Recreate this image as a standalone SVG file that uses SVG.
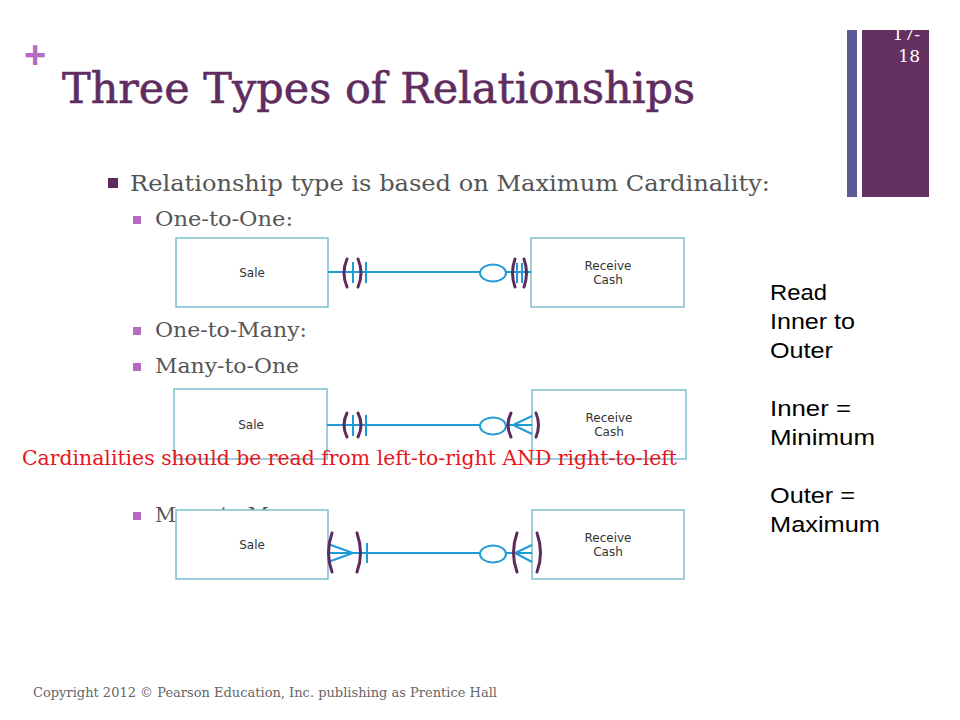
<svg xmlns="http://www.w3.org/2000/svg" width="960" height="720" viewBox="0 0 960 720">
<style>
.slab{font-family:"DejaVu Serif","Liberation Serif",serif}
.box{fill:#fff;stroke:#7cc0d0;stroke-width:1.5}
.lbl{font-family:"DejaVu Sans","Liberation Sans",sans-serif;font-size:12px;fill:#333;text-anchor:middle}
.ln{stroke:#1e9ad6;stroke-width:2;fill:none}
.br{stroke:#5e2b5e;stroke-width:3;fill:none;stroke-linecap:round}
.sub{font-size:20px;fill:#555}
.side{font-family:"Liberation Sans",Arial,sans-serif;font-size:22px;fill:#000}
</style>
<rect width="960" height="720" fill="#fff"/>
<text x="24" y="68" font-family="Liberation Sans,sans-serif" font-weight="bold" font-size="38" fill="#b56cc0">+</text>
<text class="slab" x="62" y="103" font-size="42" fill="#5f2c5f" stroke="#5f2c5f" stroke-width="0.6" textLength="633" lengthAdjust="spacingAndGlyphs">Three Types of Relationships</text>
<rect x="847" y="30" width="10" height="167" fill="#5d5a96"/>
<rect x="862" y="30" width="67" height="167" fill="#633060"/>
<text class="slab" x="920" y="40" font-size="17" fill="#fff" text-anchor="end">17-</text>
<text class="slab" x="920" y="62" font-size="17" fill="#fff" text-anchor="end">18</text>
<rect x="108" y="178" width="10" height="10" fill="#5e2b5e"/>
<text class="slab" x="130" y="191" font-size="23" fill="#555" textLength="640" lengthAdjust="spacingAndGlyphs">Relationship type is based on Maximum Cardinality:</text>
<rect x="133" y="216" width="8" height="8" fill="#b56cc0"/>
<text class="slab sub" x="155" y="226" textLength="138" lengthAdjust="spacingAndGlyphs">One-to-One:</text>
<rect x="133" y="327" width="8" height="8" fill="#b56cc0"/>
<text class="slab sub" x="155" y="337" textLength="152" lengthAdjust="spacingAndGlyphs">One-to-Many:</text>
<rect x="133" y="363" width="8" height="8" fill="#b56cc0"/>
<text class="slab sub" x="155" y="373" textLength="144" lengthAdjust="spacingAndGlyphs">Many-to-One</text>
<rect x="133" y="512" width="8" height="8" fill="#b56cc0"/>
<text class="slab sub" x="155" y="522" textLength="158" lengthAdjust="spacingAndGlyphs">Many-to-Many:</text>

<g id="sale1"><rect class="box" x="176" y="238" width="152" height="69"/><text class="lbl" x="252" y="277">Sale</text></g>
<g id="cash1"><rect class="box" x="531" y="238" width="153" height="69"/><text class="lbl" x="608" y="270">Receive</text><text class="lbl" x="608" y="284">Cash</text></g>
<g id="sale2"><rect class="box" x="174" y="389" width="153" height="70"/><text class="lbl" x="251" y="429">Sale</text></g>
<g id="cash2"><rect class="box" x="532" y="390" width="154" height="69"/><text class="lbl" x="609" y="422">Receive</text><text class="lbl" x="609" y="436">Cash</text></g>
<g id="sale3"><rect class="box" x="176" y="510" width="152" height="69"/><text class="lbl" x="252" y="549">Sale</text></g>
<g id="cash3"><rect class="box" x="532" y="510" width="152" height="69"/><text class="lbl" x="608" y="542">Receive</text><text class="lbl" x="608" y="556">Cash</text></g>

<g id="connectors">
<!-- row 1 -->
<line class="ln" x1="328" y1="272" x2="480" y2="272"/>
<line class="ln" x1="506" y1="272" x2="531" y2="272"/>
<line class="ln" x1="353" y1="262" x2="353" y2="283"/>
<line class="ln" x1="366" y1="262" x2="366" y2="283"/>
<ellipse class="ln" cx="493" cy="273" rx="13" ry="8.5"/>
<line class="ln" x1="517" y1="263" x2="517" y2="283"/>
<line class="ln" x1="522" y1="263" x2="522" y2="283"/>
<path class="br" d="M347 259 Q341 273 347 287"/>
<path class="br" d="M358 259 Q364 273 358 287"/>
<path class="br" d="M515 259 Q510 273 515 287"/>
<path class="br" d="M524 259 Q529 273 524 287"/>
<!-- row 2 -->
<line class="ln" x1="327" y1="425" x2="480" y2="425"/>
<line class="ln" x1="506" y1="425" x2="532" y2="425"/>
<line class="ln" x1="353" y1="415" x2="353" y2="436"/>
<line class="ln" x1="366" y1="415" x2="366" y2="436"/>
<ellipse class="ln" cx="493" cy="426" rx="13" ry="8.5"/>
<path class="ln" d="M532 416 L513 425 L532 434"/>
<path class="br" d="M347 413 Q341 425 347 437"/>
<path class="br" d="M358 413 Q364 425 358 437"/>
<path class="br" d="M511 413 Q505 425 511 437"/>
<path class="br" d="M536 413 Q541 425 536 437"/>
<!-- row 3 -->
<line class="ln" x1="328" y1="553" x2="480" y2="553"/>
<line class="ln" x1="506" y1="553" x2="532" y2="553"/>
<path class="ln" d="M328 544 L353 553 L328 562"/>
<line class="ln" x1="367" y1="543" x2="367" y2="563"/>
<ellipse class="ln" cx="493" cy="554" rx="13" ry="8.5"/>
<path class="ln" d="M532 545 L515 553 L532 562"/>
<path class="br" d="M332 533 Q325 553 332 572"/>
<path class="br" d="M357 533 Q364 553 357 572"/>
<path class="br" d="M517 533 Q510 553 517 572"/>
<path class="br" d="M537 533 Q544 553 537 572"/>
</g>

<text class="slab" x="22" y="465" font-size="20" fill="#e8141b" textLength="655" lengthAdjust="spacingAndGlyphs">Cardinalities should be read from left-to-right AND right-to-left</text>

<g class="side">
<text x="770" y="300" textLength="57" lengthAdjust="spacingAndGlyphs">Read</text>
<text x="770" y="329" textLength="85" lengthAdjust="spacingAndGlyphs">Inner to</text>
<text x="770" y="358" textLength="63" lengthAdjust="spacingAndGlyphs">Outer</text>
<text x="770" y="416" textLength="81" lengthAdjust="spacingAndGlyphs">Inner =</text>
<text x="770" y="445" textLength="105" lengthAdjust="spacingAndGlyphs">Minimum</text>
<text x="770" y="503" textLength="85" lengthAdjust="spacingAndGlyphs">Outer =</text>
<text x="770" y="532" textLength="110" lengthAdjust="spacingAndGlyphs">Maximum</text>
</g>
<text class="slab" x="33" y="697" font-size="13" fill="#666" textLength="464" lengthAdjust="spacingAndGlyphs">Copyright 2012 © Pearson Education, Inc. publishing as Prentice Hall</text>
</svg>
